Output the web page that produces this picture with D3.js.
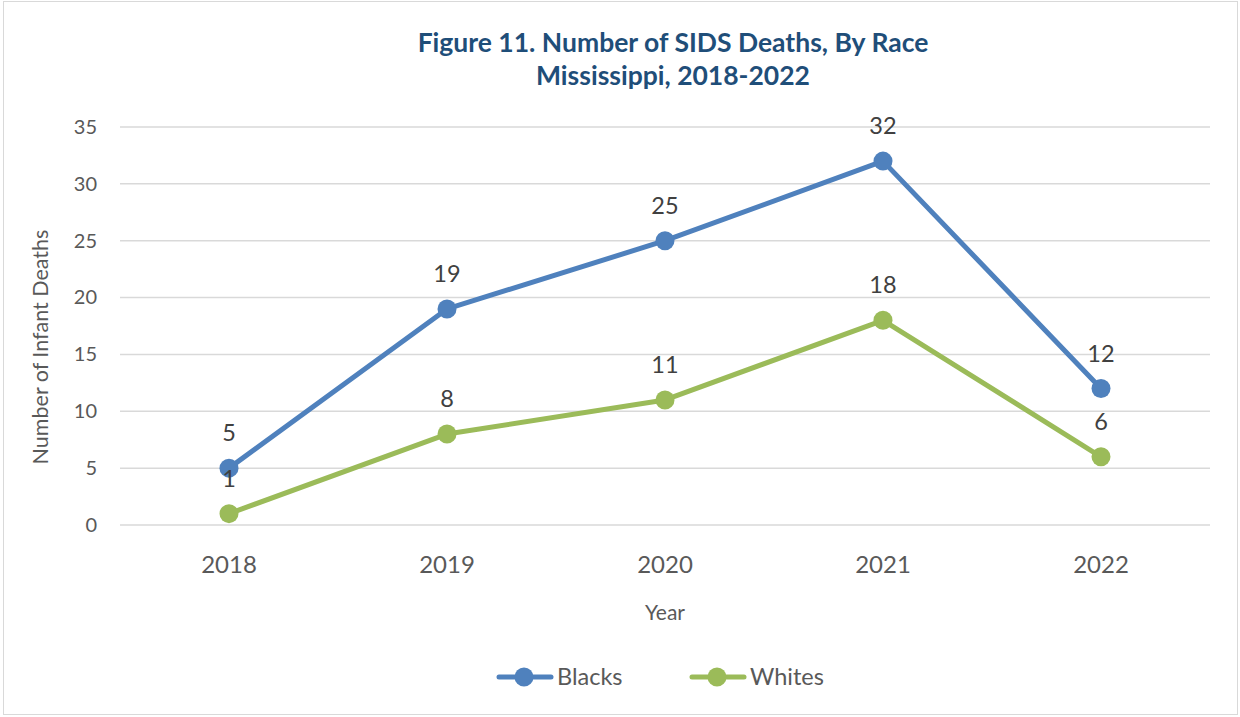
<!DOCTYPE html>
<html>
<head>
<meta charset="utf-8">
<script src="https://cdn.jsdelivr.net/npm/d3@7"></script>
<style>
  body { margin: 0; background: #fff; }
  text { font-family: Lato, "Open Sans", sans-serif; }
</style>
</head>
<body>
<script>
const w = 1240;
const h = 717;

// chart data
const years = ["2018", "2019", "2020", "2021", "2022"];
const blacks = [5, 19, 25, 32, 12];
const whites = [1, 8, 11, 18, 6];
const yTicks = [0, 5, 10, 15, 20, 25, 30, 35];

const series = [
  { name: "Blacks", values: blacks, color: "#4F81BD" },
  { name: "Whites", values: whites, color: "#9BBB59" },
];

const margin = { left: 120, right: 30, top: 127, bottom: 192 };

const svg = d3.select("body").append("svg").attr("width", w).attr("height", h);

// outer border
svg.append("rect")
  .attr("x", 3.5).attr("y", 1.5)
  .attr("width", w - 6).attr("height", h - 4)
  .attr("fill", "#fff").attr("stroke", "#d9d9d9");

const x = d3.scaleBand().domain(years).range([margin.left, w - margin.right]);
const y = d3.scaleLinear().domain([0, 35]).range([h - margin.bottom, margin.top]);

// gridlines
svg.append("g")
  .selectAll("line")
  .data(yTicks)
  .join("line")
  .attr("x1", margin.left).attr("x2", w - margin.right)
  .attr("y1", (d) => y(d)).attr("y2", (d) => y(d))
  .attr("stroke", "#d9d9d9").attr("stroke-width", 1.5);

// y axis
const yAxis = svg.append("g")
  .attr("transform", `translate(${margin.left - 23},0)`)
  .call(d3.axisLeft(y).tickValues(yTicks).tickSize(0).tickPadding(0));
yAxis.select(".domain").remove();
yAxis.selectAll("text").attr("font-size", 20).attr("fill", "#595959")
  .style("font-family", "Lato, 'Open Sans', sans-serif");

// x axis
const xAxis = svg.append("g")
  .attr("transform", `translate(0,${h - margin.bottom + 31})`)
  .call(d3.axisBottom(x).tickSize(0).tickPadding(0));
xAxis.select(".domain").remove();
xAxis.selectAll("text").attr("font-size", 24).attr("fill", "#595959")
  .style("font-family", "Lato, 'Open Sans', sans-serif");

// axis titles
svg.append("text")
  .attr("transform", `translate(48,${347}) rotate(-90)`)
  .attr("text-anchor", "middle")
  .attr("font-size", 21.5).attr("fill", "#595959")
  .text("Number of Infant Deaths");

svg.append("text")
  .attr("x", (margin.left + w - margin.right) / 2).attr("y", 620)
  .attr("text-anchor", "middle")
  .attr("font-size", 21).attr("fill", "#595959")
  .text("Year");

// title
const title = svg.append("text")
  .attr("text-anchor", "middle")
  .attr("font-size", 26.5).attr("font-weight", "bold").attr("fill", "#1F4E79");
title.append("tspan").attr("x", 673).attr("y", 52).text("Figure 11. Number of SIDS Deaths, By Race");
title.append("tspan").attr("x", 673).attr("y", 85).text("Mississippi, 2018-2022");

const cx = (d, i) => x(years[i]) + x.bandwidth() / 2;
const line = d3.line().x((d, i) => cx(d, i)).y((d) => y(d));

series.forEach((s) => {
  const g = svg.append("g");
  g.append("path")
    .datum(s.values)
    .attr("d", line)
    .attr("fill", "none")
    .attr("stroke", s.color)
    .attr("stroke-width", 5)
    .attr("stroke-linejoin", "round")
    .attr("stroke-linecap", "round");
  g.selectAll("circle")
    .data(s.values)
    .join("circle")
    .attr("cx", cx)
    .attr("cy", (d) => y(d))
    .attr("r", 9.5)
    .attr("fill", s.color);
  g.selectAll("text")
    .data(s.values)
    .join("text")
    .attr("x", cx)
    .attr("y", (d) => y(d) - 27)
    .attr("text-anchor", "middle")
    .attr("font-size", 23.5)
    .attr("fill", "#404040")
    .text((d) => d);
});

// legend
const legend = svg.append("g").attr("transform", "translate(0,677)");
const legX = [497, 690];
series.forEach((s, i) => {
  const lg = legend.append("g").attr("transform", `translate(${legX[i]},0)`);
  lg.append("line")
    .attr("x1", 2).attr("x2", 54)
    .attr("stroke", s.color).attr("stroke-width", 5)
    .attr("stroke-linecap", "round");
  lg.append("circle").attr("cx", 27).attr("r", 9.5).attr("fill", s.color);
  lg.append("text")
    .attr("x", 60).attr("y", 8)
    .attr("font-size", 23.5).attr("fill", "#595959")
    .text(s.name);
});
</script>
</body>
</html>
